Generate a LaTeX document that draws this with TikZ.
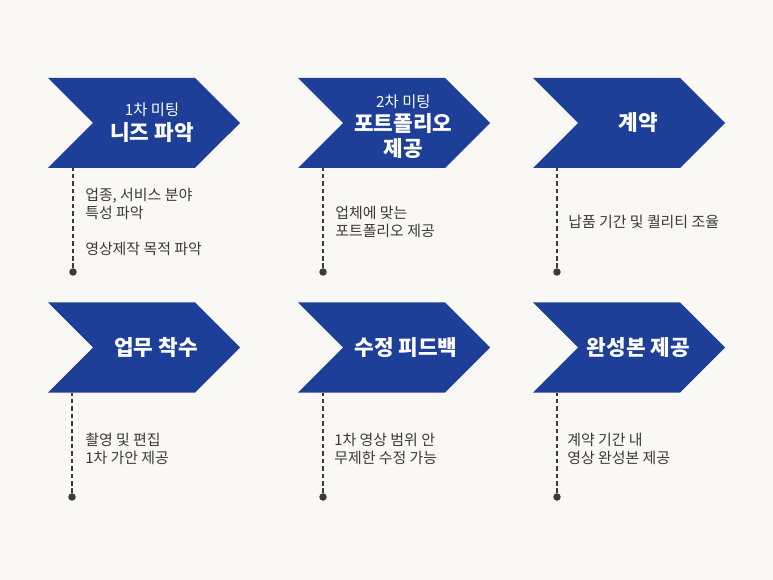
\documentclass[tikz,border=0pt]{standalone}
\usepackage{fontspec}
\setmainfont{Noto Sans CJK KR}
\usepackage{tikz}
\usetikzlibrary{shapes,arrows}
\definecolor{navy}{HTML}{1E3F98}
\definecolor{paper}{HTML}{FAF8F5}
\definecolor{ink}{HTML}{3A3A3A}
\newcommand{\meet}[1]{{\mdseries\fontsize{11.5}{15}\selectfont #1}}

\begin{document}
\begin{tikzpicture}[x=0.75pt, y=-0.75pt,
    chev/.style={signal, signal to=east, signal from=west, fill=navy,
      minimum width=144pt, minimum height=67.5pt, inner sep=0pt},
    ttl/.style={text=white, align=center, inner sep=0pt,
      font=\bfseries\fontsize{16}{19}\selectfont},
    desc/.style={anchor=west, align=left, text=ink, inner sep=0pt,
      font=\fontsize{11.2}{14}\selectfont},
    dot/.style={circle, fill=ink, minimum size=5.6pt, inner sep=0pt},
    link/.style={draw=ink, line width=1.8pt, dash pattern=on 3.4pt off 2.2pt}]
  \fill[paper] (0,0) rectangle (773,580);
  \useasboundingbox (0,0) rectangle (773,580);

  % first row
  \node [chev] (s1) at (144,123) {};
  \node [chev] (s2) at (394,123) {};
  \node [chev] (s3) at (629,123) {};
  \node [ttl] (t1) at ([xshift=6pt]s1.center) {\meet{1차 미팅}\\니즈 파악};
  \node [ttl] (t2) at ([xshift=7pt,yshift=-3pt]s2.center) {\meet{2차 미팅}\\[-1pt]포트폴리오\\제공};
  \node [ttl] (t3) at ([xshift=7pt]s3.center) {계약};
  \node [dot] (d1) at (73,272) {};
  \node [dot] (d2) at (323,272) {};
  \node [dot] (d3) at (557,272) {};
  \draw [link] (d1) -- (d1 |- s1.south);
  \draw [link] (d2) -- (d2 |- s2.south);
  \draw [link] (d3) -- (d3 |- s3.south);
  \node [desc] (e1) at (85,222) {업종, 서비스 분야\\특성 파악\\[13pt]영상제작 목적 파악};
  \node [desc] (e2) at (335,222) {업체에 맞는\\포트폴리오 제공};
  \node [desc] (e3) at (568,222) {납품 기간 및 퀄리티 조율};

  % second row
  \node [chev] (s4) at (144,347.5) {};
  \node [chev] (s5) at (394,347.5) {};
  \node [chev] (s6) at (629,347.5) {};
  \node [ttl] (t4) at ([xshift=9pt]s4.center) {업무 착수};
  \node [ttl] (t5) at ([xshift=9pt]s5.center) {수정 피드백};
  \node [ttl] (t6) at ([xshift=7pt]s6.center) {완성본 제공};
  \node [dot] (d4) at (72,497) {};
  \node [dot] (d5) at (323,497) {};
  \node [dot] (d6) at (557,497) {};
  \draw [link] (d4) -- (d4 |- s4.south);
  \draw [link] (d5) -- (d5 |- s5.south);
  \draw [link] (d6) -- (d6 |- s6.south);
  \node [desc] (e4) at (85,449) {촬영 및 편집\\1차 가안 제공};
  \node [desc] (e5) at (334,449) {1차 영상 범위 안\\무제한 수정 가능};
  \node [desc] (e6) at (567,449) {계약 기간 내\\영상 완성본 제공};
\end{tikzpicture}
\end{document}
